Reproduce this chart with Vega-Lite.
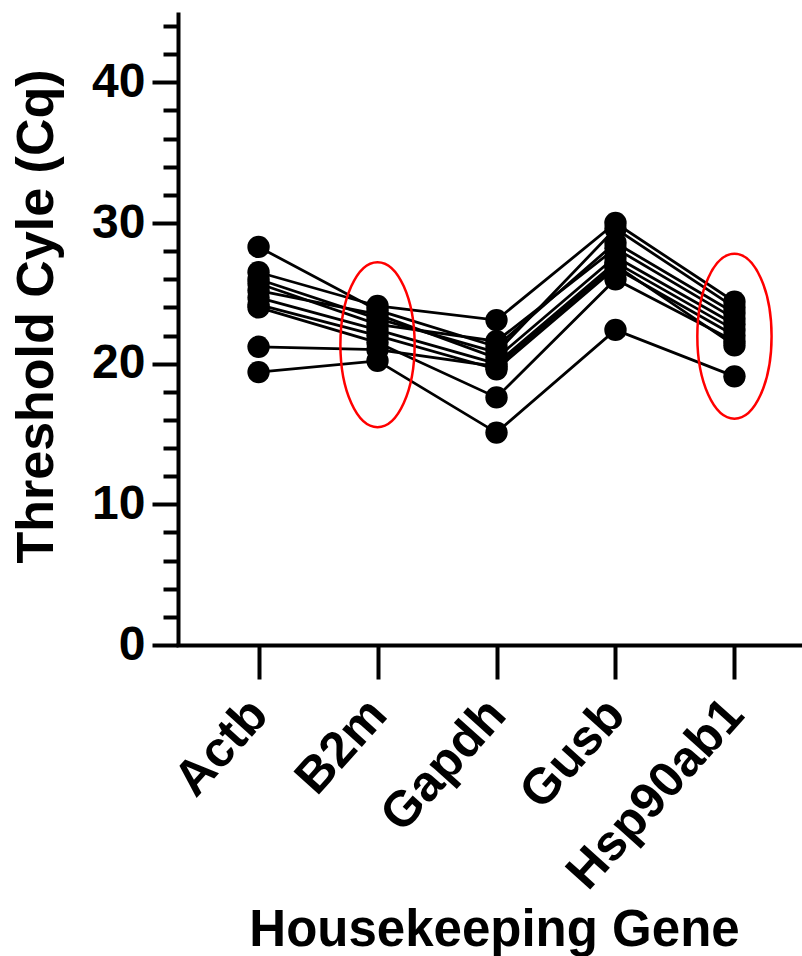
{
  "$schema": "https://vega.github.io/schema/vega-lite/v6.json",
  "width": 637,
  "height": 633,
  "autosize": {"type": "none"},
  "padding": {"left": 178, "top": 12, "right": -13, "bottom": 311},
  "background": "white",
  "config": {"view": {"stroke": null}, "font": "Liberation Sans"},
  "datasets": {
    "cq": [
      {"sample": "S1", "gene": "Actb", "cq": 28.3}, {"sample": "S1", "gene": "B2m", "cq": 23.8}, {"sample": "S1", "gene": "Gapdh", "cq": 21.2}, {"sample": "S1", "gene": "Gusb", "cq": 28.6}, {"sample": "S1", "gene": "Hsp90ab1", "cq": 23.6},
      {"sample": "S2", "gene": "Actb", "cq": 26.5}, {"sample": "S2", "gene": "B2m", "cq": 24.1}, {"sample": "S2", "gene": "Gapdh", "cq": 23.1}, {"sample": "S2", "gene": "Gusb", "cq": 30.0}, {"sample": "S2", "gene": "Hsp90ab1", "cq": 24.4},
      {"sample": "S3", "gene": "Actb", "cq": 26.0}, {"sample": "S3", "gene": "B2m", "cq": 23.2}, {"sample": "S3", "gene": "Gapdh", "cq": 20.8}, {"sample": "S3", "gene": "Gusb", "cq": 29.6}, {"sample": "S3", "gene": "Hsp90ab1", "cq": 24.0},
      {"sample": "S4", "gene": "Actb", "cq": 25.7}, {"sample": "S4", "gene": "B2m", "cq": 22.8}, {"sample": "S4", "gene": "Gapdh", "cq": 21.6}, {"sample": "S4", "gene": "Gusb", "cq": 28.2}, {"sample": "S4", "gene": "Hsp90ab1", "cq": 23.2},
      {"sample": "S5", "gene": "Actb", "cq": 25.2}, {"sample": "S5", "gene": "B2m", "cq": 23.5}, {"sample": "S5", "gene": "Gapdh", "cq": 20.4}, {"sample": "S5", "gene": "Gusb", "cq": 27.6}, {"sample": "S5", "gene": "Hsp90ab1", "cq": 22.8},
      {"sample": "S6", "gene": "Actb", "cq": 24.7}, {"sample": "S6", "gene": "B2m", "cq": 22.4}, {"sample": "S6", "gene": "Gapdh", "cq": 20.0}, {"sample": "S6", "gene": "Gusb", "cq": 27.2}, {"sample": "S6", "gene": "Hsp90ab1", "cq": 22.4},
      {"sample": "S7", "gene": "Actb", "cq": 24.2}, {"sample": "S7", "gene": "B2m", "cq": 22.0}, {"sample": "S7", "gene": "Gapdh", "cq": 19.6}, {"sample": "S7", "gene": "Gusb", "cq": 26.8}, {"sample": "S7", "gene": "Hsp90ab1", "cq": 22.0},
      {"sample": "S8", "gene": "Actb", "cq": 24.0}, {"sample": "S8", "gene": "B2m", "cq": 21.5}, {"sample": "S8", "gene": "Gapdh", "cq": 17.6}, {"sample": "S8", "gene": "Gusb", "cq": 26.0}, {"sample": "S8", "gene": "Hsp90ab1", "cq": 21.6},
      {"sample": "S9", "gene": "Actb", "cq": 21.2}, {"sample": "S9", "gene": "B2m", "cq": 21.0}, {"sample": "S9", "gene": "Gapdh", "cq": 19.8}, {"sample": "S9", "gene": "Gusb", "cq": 27.0}, {"sample": "S9", "gene": "Hsp90ab1", "cq": 21.3},
      {"sample": "S10", "gene": "Actb", "cq": 19.4}, {"sample": "S10", "gene": "B2m", "cq": 20.2}, {"sample": "S10", "gene": "Gapdh", "cq": 15.1}, {"sample": "S10", "gene": "Gusb", "cq": 22.4}, {"sample": "S10", "gene": "Hsp90ab1", "cq": 19.1}
    ],
    "highlight": [
      {"gene": "B2m", "cq": 21.35},
      {"gene": "Hsp90ab1", "cq": 21.95}
    ]
  },
  "encoding": {
    "x": {
      "field": "gene",
      "type": "nominal",
      "sort": ["Actb", "B2m", "Gapdh", "Gusb", "Hsp90ab1"],
      "scale": {"type": "point", "padding": 0.677},
      "axis": {
        "title": "Housekeeping Gene",
        "titleFontSize": 51,
        "titleFontWeight": "bold",
        "titleColor": "black",
        "titleBaseline": "alphabetic",
        "titleY": 300,
        "titleX": 316,
        "labelAngle": -48,
        "labelFontSize": 50,
        "labelFontWeight": "bold",
        "labelColor": "black",
        "labelPadding": 27,
        "labelLimit": 0,
        "labelDx": -15,
        "tickSize": 34,
        "tickWidth": 4,
        "tickColor": "black",
        "domainWidth": 4,
        "domainColor": "black",
        "domainCap": "square",
        "grid": false
      }
    },
    "y": {
      "field": "cq",
      "type": "quantitative",
      "scale": {"domain": [0, 45], "nice": false, "zero": true},
      "axis": {
        "title": "Threshold Cyle (Cq)",
        "titleFontSize": 52,
        "titleFontWeight": "bold",
        "titleColor": "black",
        "titleBaseline": "alphabetic",
        "titleAlign": "center",
        "titleX": -126,
        "titleY": 304,
        "values": [0, 2, 4, 6, 8, 10, 12, 14, 16, 18, 20, 22, 24, 26, 28, 30, 32, 34, 36, 38, 40, 42, 44],
        "labelExpr": "datum.value % 10 === 0 ? datum.label : ''",
        "labelFontSize": 48,
        "labelFontWeight": "bold",
        "labelColor": "black",
        "labelPadding": 7,
        "tickSize": {"condition": {"test": "datum.value % 10 === 0", "value": 26}, "value": 15},
        "tickWidth": 4,
        "tickColor": "black",
        "domainWidth": 4,
        "domainColor": "black",
        "grid": false
      }
    }
  },
  "layer": [
    {
      "data": {"name": "cq"},
      "mark": {"type": "line", "color": "black", "strokeWidth": 2.8},
      "encoding": {"detail": {"field": "sample"}}
    },
    {
      "data": {"name": "cq"},
      "mark": {"type": "circle", "color": "black", "opacity": 1, "size": 500}
    },
    {
      "data": {"name": "highlight"},
      "mark": {
        "type": "point",
        "shape": "M -0.45 0 A 0.45 1 0 1 0 0.45 0 A 0.45 1 0 1 0 -0.45 0 Z",
        "size": 27225,
        "filled": false,
        "stroke": "#ff0000",
        "strokeWidth": 2.5,
        "opacity": 1
      }
    }
  ]
}
